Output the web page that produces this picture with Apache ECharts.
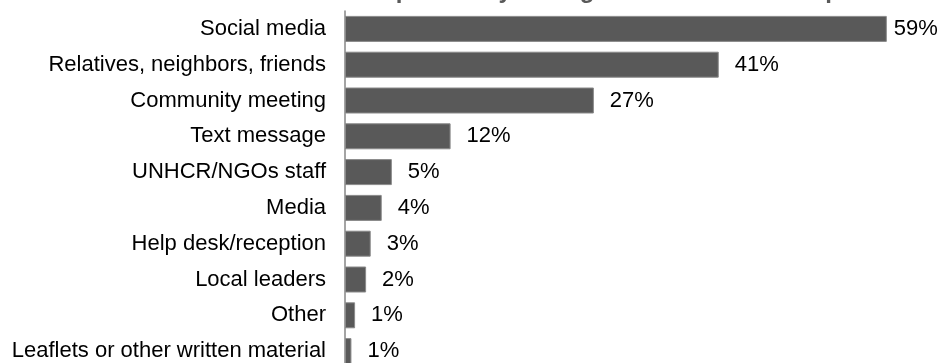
<!DOCTYPE html>
<html>
<head>
<meta charset="utf-8">
<script src="https://cdn.jsdelivr.net/npm/echarts@6/dist/echarts.min.js"></script>
<style>
  html, body { margin: 0; padding: 0; background: #fff; }
  #chart { width: 941px; height: 363px; }
</style>
</head>
<body>
<div id="chart"></div>
<script>
// channels, top to bottom as drawn
const channels = [
  'Social media',
  'Relatives, neighbors, friends',
  'Community meeting',
  'Text message',
  'UNHCR/NGOs staff',
  'Media',
  'Help desk/reception',
  'Local leaders',
  'Other',
  'Leaflets or other written material'
]
// share of respondents (%)
const shares = [59, 40.7, 27.1, 11.5, 5.1, 4.0, 2.8, 2.3, 1.1, 0.7]

const titleText = 'Information received preferably through the channels as reported'

const font = '"Liberation Sans", Arial, sans-serif'

const chart = echarts.init(document.getElementById('chart'))

chart.setOption({
  animation: false,
  graphic: [
    {
      type: 'text',
      left: 153,
      top: -21,
      style: {
        text: titleText,
        font: 'bold 24px ' + font,
        fill: '#595959'
      }
    }
  ],
  grid: {
    left: 345,
    right: 45,
    top: 11,
    bottom: -6,
    containLabel: false,
    outerBoundsMode: 'none'
  },
  xAxis: {
    type: 'value',
    min: 0,
    max: 60,
    show: false
  },
  yAxis: {
    type: 'category',
    inverse: true,
    data: channels,
    axisLine: {
      show: true,
      lineStyle: { color: '#868686', width: 1.5 }
    },
    axisTick: { show: false },
    axisLabel: {
      margin: 19,
      color: '#000',
      fontSize: 22,
      fontFamily: font
    }
  },
  series: [
    {
      type: 'bar',
      barWidth: 26,
      data: shares.map((v, i) => ({
        value: v,
        label: i === 0 ? { distance: 7 } : undefined
      })),
      itemStyle: {
        color: '#595959',
        borderColor: '#8a8a8a',
        borderWidth: 1
      },
      label: {
        show: true,
        position: 'right',
        distance: 16,
        color: '#000',
        fontSize: 22,
        fontFamily: font,
        formatter: (p) => Math.round(p.value) + '%'
      }
    }
  ]
})
</script>
</body>
</html>
